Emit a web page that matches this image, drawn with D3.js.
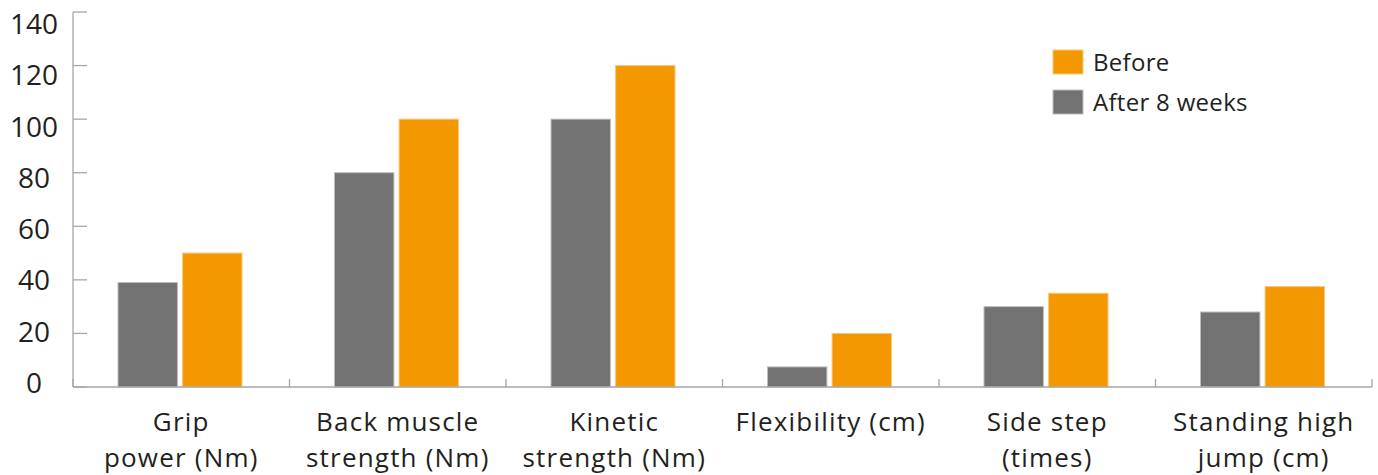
<!DOCTYPE html>
<html><head><meta charset="utf-8">
<script src="https://cdn.jsdelivr.net/npm/d3@7/dist/d3.min.js"></script>
<style>body{margin:0;background:#fff}svg{display:block}text{font-family:"Open Sans",sans-serif;fill:#231f20}</style>
</head><body>
<svg id="c" width="1378" height="475"></svg>
<script>
const categories = [["Grip","power (Nm)"],["Back muscle","strength (Nm)"],["Kinetic","strength (Nm)"],["Flexibility (cm)"],["Side step","(times)"],["Standing high","jump (cm)"]];
const seriesNames = ["After 8 weeks","Before"];
const afterVals = [39, 80, 100, 7.5, 30, 28];
const beforeVals = [50, 100, 120, 20, 35, 37.5];
const yTicks = [0,20,40,60,80,100,120,140];
const colors = {"After 8 weeks":"#727272","Before":"#f39800"};

const svg = d3.select("#c");
const x = d3.scaleBand().domain(d3.range(categories.length)).range([73,1372]).paddingInner(0).paddingOuter(0);
const xi = d3.scaleBand().domain(seriesNames).range([45,169]).paddingInner(0.08).paddingOuter(0);
const y = d3.scaleLinear().domain([0,140]).range([387,12]);
const yLab = d3.scaleLinear().domain([0,140]).range([393,34]);

const axisColor = "#a6a6a6";
svg.append("line").attr("x1",73).attr("x2",73).attr("y1",y(140)).attr("y2",y(0)).attr("stroke",axisColor).attr("stroke-width",1.3);
svg.selectAll(".yt").data(yTicks).enter().append("line")
  .attr("x1",73).attr("x2",87).attr("y1",d=>y(d)).attr("y2",d=>y(d)).attr("stroke",axisColor).attr("stroke-width",1.3);
svg.selectAll(".yl").data(yTicks).enter().append("text")
  .attr("x",34).attr("y",d=>yLab(d)).attr("text-anchor","middle").attr("font-size",28).text(d=>d);

const data = categories.map((c,i)=>({i, vals:[{k:"After 8 weeks",v:afterVals[i]},{k:"Before",v:beforeVals[i]}]}));
const g = svg.selectAll(".grp").data(data).enter().append("g").attr("transform",d=>`translate(${x(d.i)},0)`);
g.selectAll("rect").data(d=>d.vals).enter().append("rect")
  .attr("x",d=>xi(d.k)).attr("width",xi.bandwidth())
  .attr("y",d=>y(d.v)).attr("height",d=>y(0)-y(d.v))
  .attr("fill",d=>colors[d.k]).attr("stroke",d=>d.k==="Before"?"#f8c77a":"#bdbdbd").attr("stroke-width",1);

svg.append("line").attr("x1",73).attr("x2",1372).attr("y1",y(0)).attr("y2",y(0)).attr("stroke",axisColor).attr("stroke-width",1.3);
svg.selectAll(".xt").data(d3.range(categories.length+1)).enter().append("line")
  .attr("x1",d=>73+d*x.bandwidth()).attr("x2",d=>73+d*x.bandwidth())
  .attr("y1",y(0)).attr("y2",y(0)-8).attr("stroke",axisColor).attr("stroke-width",1.3);

const xl = svg.selectAll(".xl").data(categories).enter().append("text")
  .attr("text-anchor","middle").attr("font-size",26).attr("letter-spacing",1.2)
  .attr("transform",(d,i)=>`translate(${x(i)+x.bandwidth()/2},0)`);
xl.selectAll("tspan").data(d=>d).enter().append("tspan")
  .attr("x",0).attr("y",(d,j)=>431+j*36).text(d=>d);

const legend = [{k:"Before",y:50},{k:"After 8 weeks",y:90}];
legend.forEach(l=>{
  svg.append("rect").attr("x",1053).attr("y",l.y).attr("width",30).attr("height",24).attr("fill",colors[l.k])
    .attr("stroke",l.k==="Before"?"#f8c77a":"#bdbdbd");
  svg.append("text").attr("x",1093).attr("y",l.y+21).attr("font-size",24).attr("letter-spacing",0.3).text(l.k);
});
</script>
</body></html>
